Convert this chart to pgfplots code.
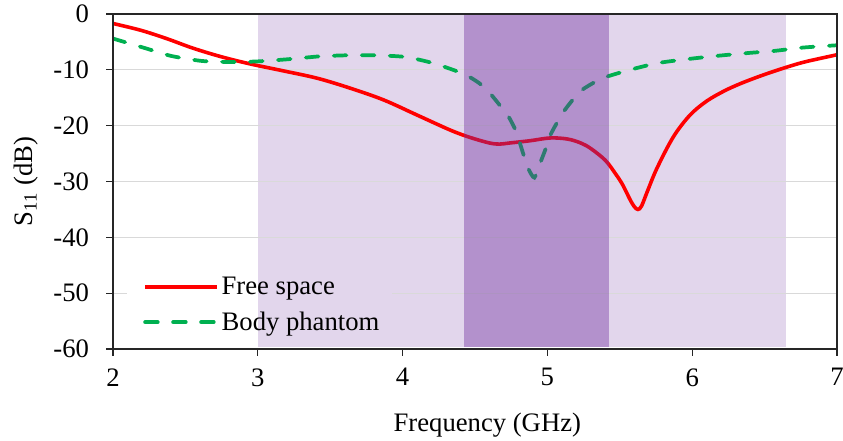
\documentclass[border=0pt]{standalone}
\usepackage{fontspec}
\setmainfont{Liberation Serif}
\usepackage{pgfplots}
\pgfplotsset{compat=1.18}

\definecolor{fsred}{RGB}{255,0,0}
\definecolor{bpgreen}{RGB}{0,176,80}
\definecolor{band}{RGB}{112,48,160}
\definecolor{gridgray}{RGB}{217,217,217}

\begin{document}
\begin{tikzpicture}[x=1pt,y=1pt]
\begin{axis}[
  at={(0,0)}, anchor=south west, name=ax,
  scale only axis, width=543pt, height=251.25pt,
  xmin=2, xmax=7, ymin=-60, ymax=0,
  xtick={2,3,4,5,6,7}, ytick={-60,-50,-40,-30,-20,-10,0},
  xticklabels={2,3,4,5,6,7},
  yticklabels={-60,-50,-40,-30,-20,-10,0},
  tick align=outside, tick pos=left, major tick length=5pt,
  axis on top,
  axis line style={black!85, line width=0.9pt},
  tick style={black!85, line width=0.8pt},
  font=\fontsize{20}{24}\selectfont,
  yticklabel style={xshift=-9.5pt},
  xticklabel style={yshift=-6pt},
  xlabel={Frequency (GHz)},
  ylabel={S\textsubscript{11} (dB)},
  xlabel style={at={(axis description cs:0.517,-0.227)}, anchor=center},
  ylabel style={at={(axis description cs:-0.120,0.5)}, anchor=center},
  legend style={draw=none, fill=none, at={(axis cs:2.207,-46.6)}, anchor=north west,
    inner sep=0pt, row sep=7.5pt,
    nodes={inner sep=2pt, anchor=west}},
  legend cell align=left,
  legend image code/.code={\draw[#1] (0pt,0pt) -- (54pt,0pt);},
]

% measurement bands: outer band under everything
\fill[band!20] (axis cs:3,-59.7) rectangle (axis cs:6.648,0);

% horizontal grid (the -50 line is interrupted by the legend)
\pgfplotsinvokeforeach{-10,-20,-30,-40}{
  \draw[gridgray, line width=0.8pt] (axis cs:2,#1) -- (axis cs:7,#1);
}
\draw[gridgray, line width=0.8pt] (axis cs:2,-50) -- (axis cs:2.097,-50);
\draw[gridgray, line width=0.8pt] (axis cs:3.93,-50) -- (axis cs:7,-50);

\addplot[fsred, line width=2.7pt, smooth, tension=0.55] coordinates {
  (2.00,-1.7) (2.19,-2.9) (2.37,-4.4) (2.55,-6.1) (2.74,-7.6) (2.94,-8.9)
  (3.17,-10.15) (3.41,-11.5) (3.64,-13.3) (3.87,-15.4) (4.10,-18.1)
  (4.33,-20.8) (4.465,-22.1) (4.60,-23.1) (4.67,-23.3) (4.74,-23.1)
  (4.88,-22.7) (5.02,-22.2) (5.14,-22.4) (5.23,-23.1) (5.30,-24.1)
  (5.40,-26.2) (5.47,-28.6) (5.52,-30.6) (5.57,-33.2) (5.60,-34.5) (5.625,-35.0)
  (5.65,-34.4) (5.69,-31.8) (5.757,-27.6) (5.87,-22.0) (5.985,-18.1)
  (6.10,-15.6) (6.22,-13.8) (6.33,-12.5) (6.45,-11.3) (6.56,-10.3)
  (6.68,-9.3) (6.79,-8.5) (7.00,-7.3)
};
\addlegendentry{Free space}

\addplot[bpgreen, line width=2.8pt, line cap=round, dash pattern=on 9.5pt off 11.5pt,
  smooth, tension=0.4] coordinates {
  (2.00,-4.4) (2.22,-6.1) (2.40,-7.5) (2.61,-8.4) (2.81,-8.6) (2.99,-8.5)
  (3.21,-8.1) (3.42,-7.6) (3.61,-7.4) (3.82,-7.4) (4.02,-7.7) (4.21,-8.8)
  (4.42,-10.7) (4.53,-12.4) (4.60,-14.1) (4.67,-16.3) (4.73,-18.3)
  (4.78,-20.8) (4.81,-23.1) (4.84,-25.6) (4.87,-27.8) (4.91,-29.3)
  (4.95,-26.7) (4.99,-24.0) (5.02,-21.7) (5.07,-19.3) (5.12,-17.2)
  (5.19,-14.9) (5.25,-13.4) (5.38,-11.5) (5.57,-10.0) (5.76,-8.8)
  (5.96,-8.1) (6.17,-7.5) (6.38,-7.0) (6.57,-6.6) (6.77,-6.0) (7.00,-5.6)
};
\addlegendentry{Body phantom}

% inner band, tinted over the curves
\fill[band, fill opacity=0.41] (axis cs:4.424,-59.7) rectangle (axis cs:5.425,0);

\end{axis}
\pgfresetboundingbox
\path (-84.75pt,-68.25pt) rectangle (547.5pt,261.75pt);
\end{tikzpicture}
\end{document}
